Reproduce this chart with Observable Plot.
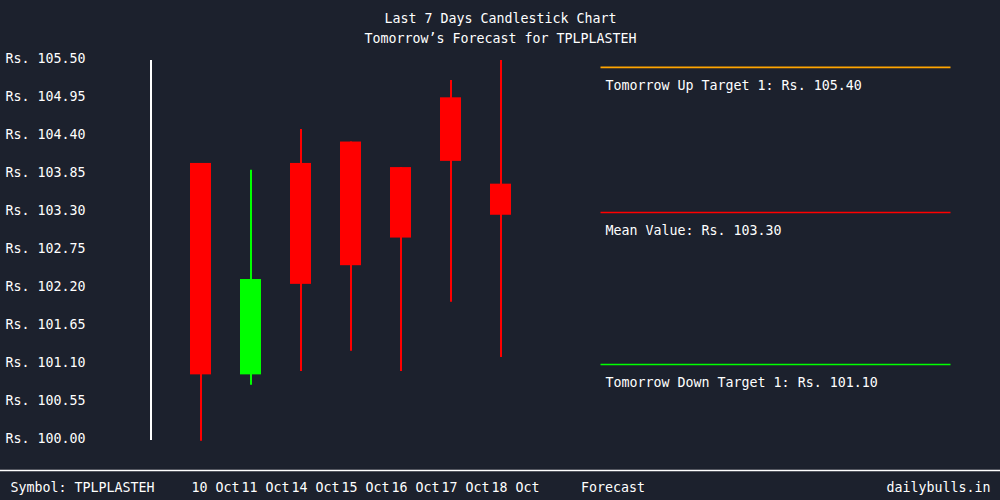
<!DOCTYPE html>
<html>
<head>
<meta charset="utf-8">
<script src="https://cdn.jsdelivr.net/npm/d3@7"></script>
<script src="https://cdn.jsdelivr.net/npm/@observablehq/plot@0.6"></script>
<style>
  html, body { margin: 0; padding: 0; background: #1c212d; }
  #chart { width: 1000px; height: 500px; }
</style>
</head>
<body>
<div id="chart"></div>
<script>
// ---- data ----
const dates  = ["10 Oct", "11 Oct", "14 Oct", "15 Oct", "16 Oct", "17 Oct", "18 Oct"];
const opens  = [104.01, 100.95, 104.01, 104.32, 103.95, 104.96, 103.71];
const highs  = [104.01, 103.91, 104.50, 104.32, 103.95, 105.21, 105.50];
const lows   = [99.99, 100.80, 101.00, 101.29, 101.00, 102.00, 101.20];
const closes = [100.95, 102.33, 102.26, 102.53, 102.93, 104.04, 103.26];

const forecastLabels = ["Tomorrow Up Target 1", "Mean Value", "Tomorrow Down Target 1"];
const forecastValues = [105.40, 103.30, 101.10];
const forecastColors = ["#ffa500", "#ff0000", "#00ff00"];

const yTicks = [100.00, 100.55, 101.10, 101.65, 102.20, 102.75, 103.30, 103.85, 104.40, 104.95, 105.50];

const symbol = "TPLPLASTEH";
const titleText = "Last 7 Days Candlestick Chart";
const subtitleText = "Tomorrow\u2019s Forecast for " + symbol;
const siteText = "dailybulls.in";

// ---- build tables ----
const candles = dates.map((d, i) => ({
  i, date: d, open: opens[i], high: highs[i], low: lows[i], close: closes[i]
}));
const forecast = forecastLabels.map((l, k) => ({
  label: l, value: forecastValues[k], color: forecastColors[k]
}));
const candleColor = d => d.close >= d.open ? "#00ff00" : "#ff0000";

const FONT = "DejaVu Sans Mono, Liberation Mono, monospace";
const FS = 13.3;

const chart = Plot.plot({
  width: 1000,
  height: 500,
  marginTop: 60,
  marginBottom: 60,
  marginLeft: 0,
  marginRight: 0,
  style: { background: "#1c212d", color: "#ffffff", fontFamily: FONT, fontSize: FS + "px" },
  x: { type: "linear", domain: [-4.01, 15.99], axis: null, label: null },
  y: { domain: [100, 105.5], axis: null, label: null },
  marks: [
    // y axis labels
    Plot.axisY({
      anchor: "left", ticks: yTicks, tickSize: 0, tickPadding: 0, label: null,
      tickFormat: d => "Rs. " + d.toFixed(2),
      textAnchor: "start", dx: 5, dy: -2, fill: "#ffffff", fontSize: FS, fontFamily: FONT
    }),
    // axis line
    Plot.ruleX([-1], { y1: 100, y2: 105.5, stroke: "#ffffff", strokeWidth: 2 }),
    // wicks
    Plot.ruleX(candles, { x: "i", y1: "low", y2: "high", stroke: candleColor, strokeWidth: 2 }),
    // bodies
    Plot.rect(candles, {
      x1: d => d.i - 0.21, x2: d => d.i + 0.21,
      y1: "open", y2: "close", fill: candleColor
    }),
    // date labels
    Plot.axisX({
      anchor: "bottom", ticks: d3.range(dates.length), tickSize: 0, tickPadding: 0, label: null,
      tickFormat: i => dates[i], textAnchor: "start", lineAnchor: "middle",
      dx: -9.5, dy: 47, fill: "#ffffff", fontSize: FS, fontFamily: FONT
    }),
    // forecast lines
    Plot.ruleY(forecast, { y: "value", x1: 8, x2: 15, stroke: d => d.color, strokeWidth: 1.6 }),
    Plot.text(forecast, {
      x: 8, y: "value", text: d => `${d.label}: Rs. ${d.value.toFixed(2)}`,
      textAnchor: "start", lineAnchor: "middle", dx: 4.5, dy: 18,
      fill: "#ffffff", fontSize: FS, fontFamily: FONT
    }),
    // title & subtitle
    Plot.text([titleText], { frameAnchor: "top", lineAnchor: "middle", dy: -42, fill: "#ffffff", fontSize: FS, fontFamily: FONT }),
    Plot.text([subtitleText], { frameAnchor: "top", lineAnchor: "middle", dy: -22, fill: "#ffffff", fontSize: FS, fontFamily: FONT }),
    // footer separator
    Plot.ruleY([100], { dy: 30, stroke: "#ffffff", strokeWidth: 1.5 }),
    // footer texts
    Plot.text(["Symbol: " + symbol], { frameAnchor: "bottom-left", textAnchor: "start", lineAnchor: "middle", dx: 10, dy: 47, fill: "#ffffff", fontSize: FS, fontFamily: FONT }),
    Plot.text(["Forecast"], { x: 8, frameAnchor: "bottom", textAnchor: "start", lineAnchor: "middle", dx: -20, dy: 47, fill: "#ffffff", fontSize: FS, fontFamily: FONT }),
    Plot.text([siteText], { frameAnchor: "bottom-right", textAnchor: "end", lineAnchor: "middle", dx: -10, dy: 47, fill: "#ffffff", fontSize: FS, fontFamily: FONT })
  ]
});
document.getElementById("chart").appendChild(chart);
</script>
</body>
</html>
